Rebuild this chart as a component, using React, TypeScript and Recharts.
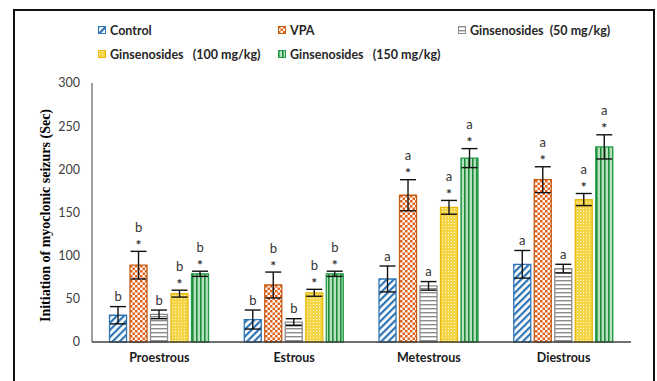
import React from "react";
import { BarChart, Bar, XAxis, YAxis, ErrorBar, LabelList } from "recharts";

const stages = ["Proestrous", "Estrous", "Metestrous", "Diestrous"];
const groupNames = [
  "Control",
  "VPA",
  "Ginsenosides  (50 mg/kg)",
  "Ginsenosides   (100 mg/kg)",
  "Ginsenosides   (150 mg/kg)",
];
const controlMean = [31, 26, 73, 90];
const controlErr = [10, 11, 15, 16];
const vpaMean = [89, 66, 170, 188];
const vpaErr = [16, 15, 18, 15];
const gin50Mean = [32, 23, 65, 85];
const gin50Err = [5, 4, 5, 5];
const gin100Mean = [56, 57, 156, 165];
const gin100Err = [4, 4, 8, 7];
const gin150Mean = [79, 79, 213, 226];
const gin150Err = [3, 3, 11, 14];
const stageLetters = ["b", "b", "a", "a"];
const hasStar = [false, true, false, true, true];
const yTicks = [0, 50, 100, 150, 200, 250, 300];

const means = [controlMean, vpaMean, gin50Mean, gin100Mean, gin150Mean];
const errs = [controlErr, vpaErr, gin50Err, gin100Err, gin150Err];
const keys = ["control", "vpa", "gin50", "gin100", "gin150"];
const strokes = ["#2E75B6", "#C55A11", "#8C8C8C", "#E8B90C", "#1E9A46"];

const data = stages.map((stage, i) => {
  const row: Record<string, string | number> = { stage };
  keys.forEach((k, s) => {
    row[k] = means[s][i];
    row[k + "Err"] = errs[s][i];
  });
  return row;
});

const Patterns = () => (
  <svg width={0} height={0} style={{ position: "absolute" }}>
    <defs>
      <pattern id="p-control" width="5" height="5" patternUnits="userSpaceOnUse" patternTransform="rotate(45)">
        <rect width="5" height="5" fill="#fff" />
        <rect width="2.2" height="5" fill="#2E75B6" />
      </pattern>
      <pattern id="p-vpa" width="5" height="5" patternUnits="userSpaceOnUse">
        <rect width="5" height="5" fill="#fff" />
        <rect width="2.5" height="2.5" fill="#E2611B" />
        <rect x="2.5" y="2.5" width="2.5" height="2.5" fill="#E2611B" />
      </pattern>
      <pattern id="p-gin50" width="4" height="4" patternUnits="userSpaceOnUse">
        <rect width="4" height="4" fill="#fff" />
        <rect width="4" height="1.4" fill="#8C8C8C" />
      </pattern>
      <pattern id="p-gin100" width="3" height="3" patternUnits="userSpaceOnUse">
        <rect width="3" height="3" fill="#F5D548" />
        <rect x="1" y="1" width="1" height="1" fill="#FFF6C8" />
      </pattern>
      <pattern id="p-gin150" width="4" height="4" patternUnits="userSpaceOnUse">
        <rect width="4" height="4" fill="#B6E3BE" />
        <rect width="1.6" height="4" fill="#1E8C3A" />
      </pattern>
    </defs>
  </svg>
);

const makeLabel = (s: number) => (props: any) => {
  const { x, y, width, height, index } = props;
  const mean = means[s][index];
  const pxPer = Number(height) / mean;
  const errTop = Number(y) - errs[s][index] * pxPer;
  const cx = Number(x) + Number(width) / 2;
  const letterY = hasStar[s] ? errTop - 23 : errTop - 9;
  return (
    <g>
      <text x={cx} y={letterY + 3.5} textAnchor="middle" fontFamily="Lato" fontSize={13} fill="#333" stroke="none">
        {stageLetters[index]}
      </text>
      {hasStar[s] && (
        <text
          x={cx}
          y={errTop - 1.5}
          textAnchor="middle"
          fontFamily="Lato"
          fontSize={14}
          fontWeight="bold"
          fill="#333"
          stroke="none"
        >
          *
        </text>
      )}
    </g>
  );
};

const yLabel = (props: any) => {
  const vb = props.viewBox;
  const cx = vb.x + 15;
  const cy = vb.y + vb.height / 2 + 3;
  return (
    <text
      x={cx}
      y={cy}
      transform={`rotate(-90, ${cx}, ${cy})`}
      textAnchor="middle"
      dominantBaseline="central"
      fontFamily="Liberation Serif"
      fontWeight="bold"
      fontSize={14}
      fill="#000"
    >
      Initiation of myoclonic seizurs (Sec)
    </text>
  );
};

const legendX = [98, 278, 458];

const App = () => (
  <div style={{ position: "absolute", left: 0, top: 0, width: 657, height: 381, overflow: "hidden", background: "#fff" }}>
    <Patterns />
    <div
      style={{
        position: "absolute",
        left: 13,
        top: 9,
        width: 642,
        height: 420,
        boxSizing: "border-box",
        border: "2.5px solid #111",
        borderBottom: "none",
      }}
    />
    {groupNames.map((name, i) => (
      <div
        key={name}
        style={{
          position: "absolute",
          left: legendX[i % 3],
          top: i < 3 ? 22 : 46,
          height: 16,
          display: "flex",
          alignItems: "center",
          fontFamily: "Lato",
          fontWeight: "bold",
          fontSize: 12.5,
          color: "#262626",
          whiteSpace: "pre",
        }}
      >
        <svg width={8} height={8} style={{ marginRight: 4 }}>
          <rect x={0.5} y={0.5} width={7} height={7} fill={`url(#p-${keys[i]})`} stroke={strokes[i]} />
        </svg>
        {name}
      </div>
    ))}
    <div style={{ position: "absolute", left: 0, top: 0 }}>
      <BarChart
        width={657}
        height={381}
        data={data}
        margin={{ top: 83, right: 26, bottom: 9, left: 30 }}
        barCategoryGap="13%"
        barGap={3.5}
      >
        <XAxis
          dataKey="stage"
          height={30}
          stroke="#404040"
          strokeWidth={1.3}
          tickLine={false}
          tickSize={0}
          tickMargin={11}
          tick={{ fontFamily: "Lato", fontWeight: "bold", fontSize: 12.5, fill: "#1a1a1a" }}
        />
        <YAxis
          width={62}
          domain={[0, 300]}
          ticks={yTicks}
          stroke="#404040"
          tickLine={false}
          tickSize={0}
          tickMargin={12}
          tick={{ fontFamily: "Lato", fontSize: 12.5, fill: "#404040" }}
          label={yLabel}
        />
        {keys.map((k, s) => (
          <Bar
            key={k}
            dataKey={k}
            fill={`url(#p-${k})`}
            stroke={strokes[s]}
            strokeWidth={1.3}
            isAnimationActive={false}
          >
            <ErrorBar dataKey={k + "Err"} width={8} stroke="#111" strokeWidth={1.4} />
            <LabelList dataKey={k} content={makeLabel(s)} />
          </Bar>
        ))}
      </BarChart>
    </div>
  </div>
);

export default App;
